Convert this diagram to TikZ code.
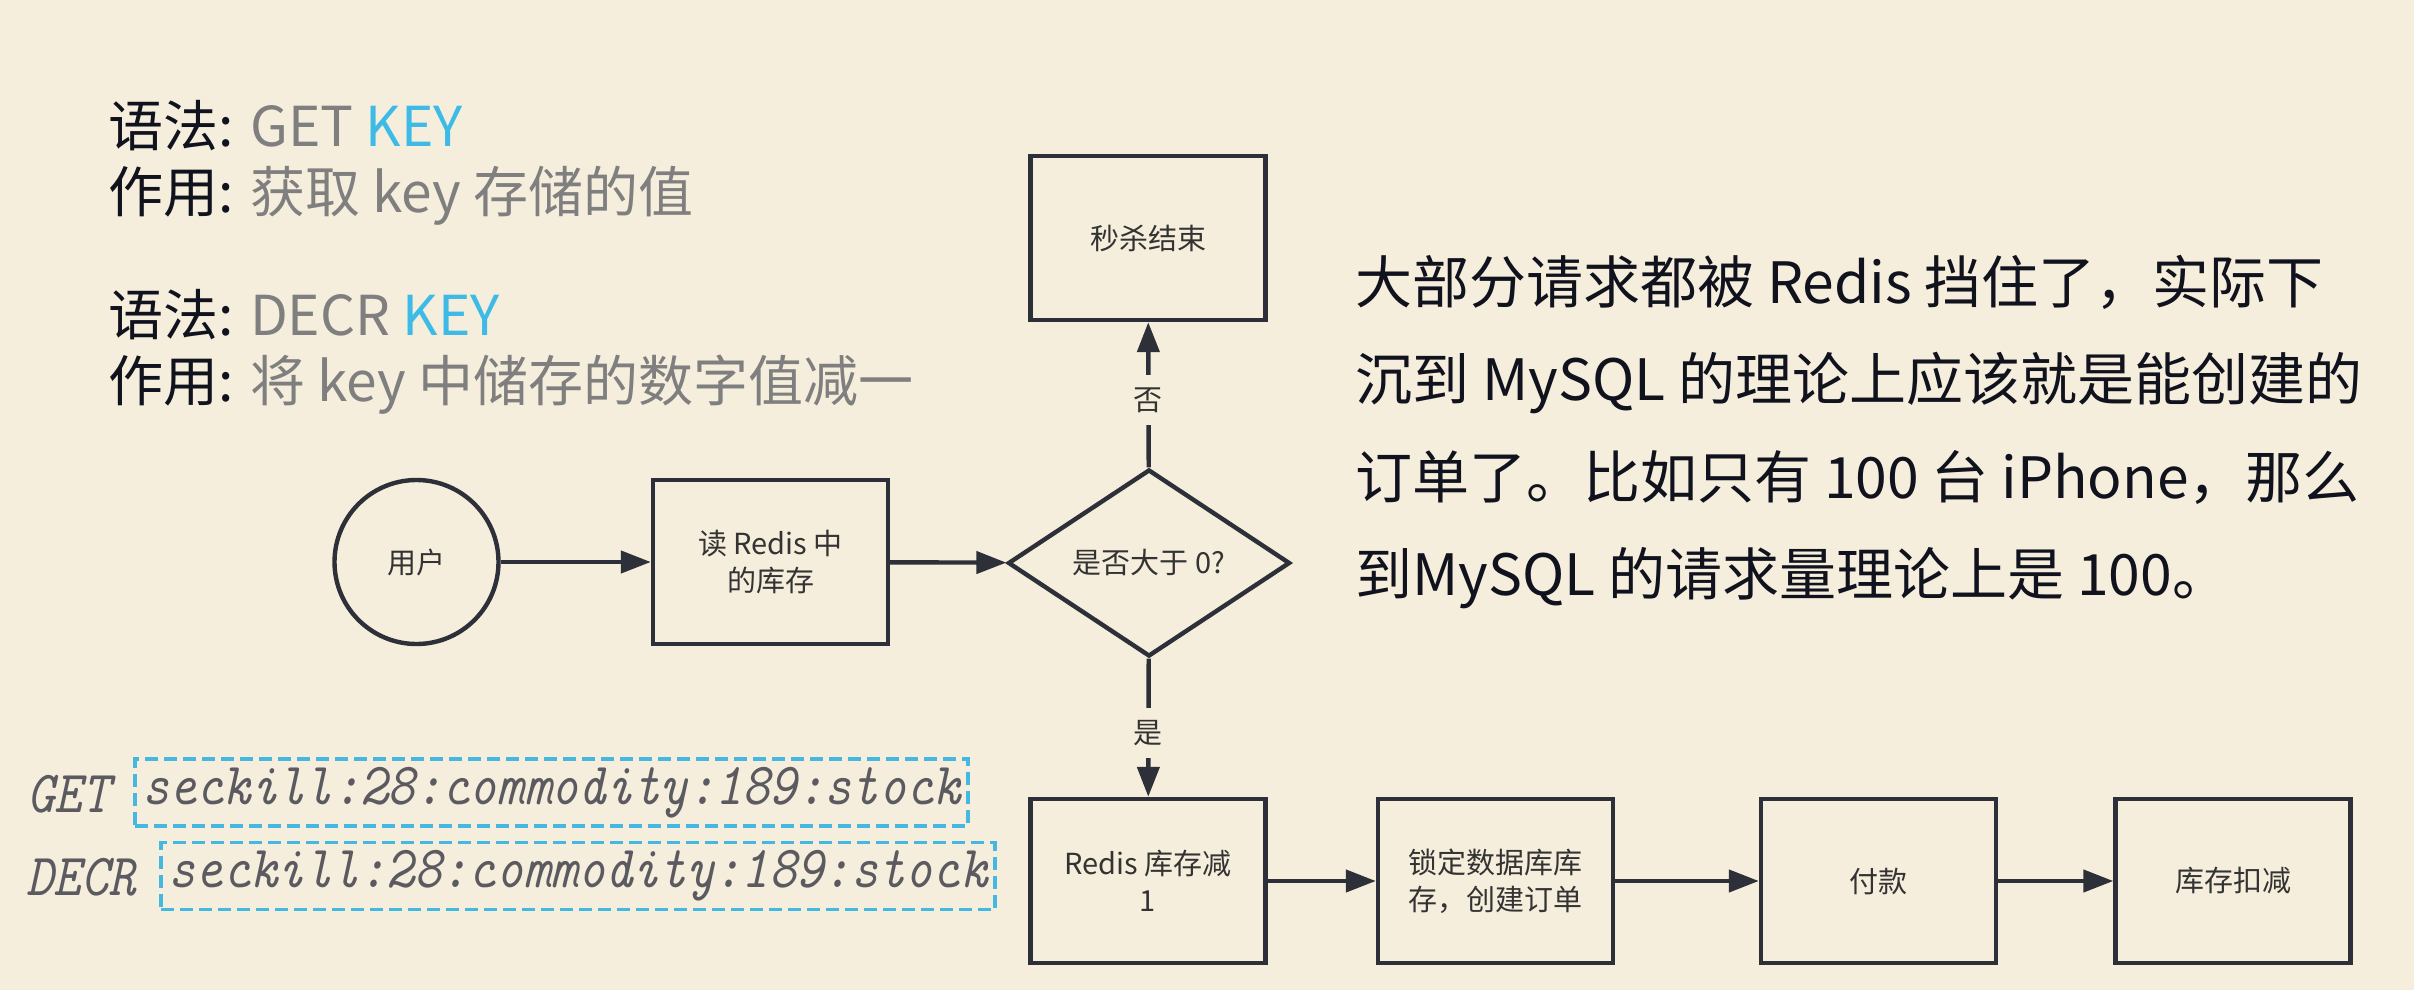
\documentclass[tikz,border=0pt]{standalone}
\usepackage{fontspec}
\usepackage{graphicx}
\newfontfamily\cjk{Noto Sans CJK SC}
\usetikzlibrary{shapes.geometric,arrows.meta}
\definecolor{bg}{HTML}{F6EEDC}
\definecolor{linec}{HTML}{2D3038}
\definecolor{nodetext}{HTML}{333333}
\definecolor{darktext}{HTML}{10121E}
\definecolor{graytext}{HTML}{7F7F7F}
\definecolor{keyblue}{HTML}{3DBBE6}
\definecolor{monotext}{HTML}{5A5A60}
\definecolor{dashblue}{HTML}{44B8E0}
\tikzset{
  flowbox/.style={draw=linec, line width=2.2pt, minimum width=117.5pt, minimum height=82pt,
    inner sep=0pt, align=center, text=nodetext, font=\cjk\fontsize{14.5}{18.5}\selectfont},
  flowarrow/.style={draw=linec, line width=2.2pt, -{Triangle[length=15pt,width=11pt]}},
  flowlabel/.style={fill=bg, inner xsep=3pt, inner ysep=6pt, text=nodetext, font=\cjk\fontsize{14.5}{17}\selectfont},
  lefttext/.style={anchor=base west, inner sep=0pt, text=darktext, font=\cjk\fontsize{27.5}{30}\selectfont},
  paratext/.style={anchor=base west, inner sep=0pt, text=darktext, font=\cjk\fontsize{28.5}{30}\selectfont},
  monolabel/.style={anchor=base west, inner sep=0pt, text=monotext, font=\ttfamily\itshape\fontsize{26}{28}\selectfont},
  keybox/.style={draw=dashblue, line width=1.6pt, dash pattern=on 6.5pt off 3pt, minimum height=33.5pt,
    inner sep=0pt, text=monotext, font=\ttfamily\itshape\fontsize{26}{28}\selectfont}
}
\begin{document}
\begin{tikzpicture}[x=0.5pt,y=-0.5pt]
\fill[bg] (0,0) rectangle (2414,990);
\useasboundingbox (0,0) rectangle (2414,990);

% left description text
\node[lefttext] (syn1) at (108,147) {语法: {\color{graytext}GET} {\color{keyblue}KEY}};
\node[lefttext] (use1) at (108,213) {作用: {\color{graytext}获取 key 存储的值}};
\node[lefttext] (syn2) at (108,335) {语法: {\color{graytext}DECR} {\color{keyblue}KEY}};
\node[lefttext] (use2) at (108,401) {作用: {\color{graytext}将 key 中储存的数字值减一}};

% right paragraph
\node[paratext] (p1) at (1355,303) {大部分请求都被 Redis 挡住了，实际下};
\node[paratext] (p2) at (1355,400.5) {沉到 MySQL 的理论上应该就是能创建的};
\node[paratext] (p3) at (1355,498) {订单了。比如只有 100 台 iPhone，那么};
\node[paratext] (p4) at (1355,595.5) {到MySQL 的请求量理论上是 100。};

% flowchart
\node[draw=linec, line width=2.2pt, circle, minimum size=82pt, inner sep=0pt, text=nodetext,
      font=\cjk\fontsize{14.5}{18}\selectfont] (user) at (416.5,562) {用户};
\node[flowbox] (read) at (770.5,562) {读 Redis 中\\的库存};
\node[draw=linec, line width=2.2pt, diamond, minimum width=141pt, minimum height=93.5pt, inner sep=0pt,
      text=nodetext, font=\cjk\fontsize{14.5}{18}\selectfont] (dia) at (1149,563) {是否大于 0?};
\node[flowbox] (end) at (1148,238) {秒杀结束};
\node[flowbox] (b1) at (1148,881) {Redis 库存减\\1};
\node[flowbox] (b2) at (1495.5,881) {锁定数据库库\\存，创建订单};
\node[flowbox] (b3) at (1878.5,881) {付款};
\node[flowbox] (b4) at (2233,881) {库存扣减};

\draw[flowarrow] (user) -- (read);
\draw[flowarrow] (read) -- (dia);
\draw[flowarrow] (dia) -- (end);
\draw[flowarrow] (dia) -- (b1);
\draw[flowarrow] (b1) -- (b2);
\draw[flowarrow] (b2) -- (b3);
\draw[flowarrow] (b3) -- (b4);
\node[flowlabel] (no) at (1148,400) {否};
\node[flowlabel] (yes) at (1148,733) {是};

% key commands
\node[monolabel] (get) at (27,812) {\scalebox{1}[1.15]{GET}};
\node[keybox, minimum width=416.5pt] (k1) at (551.5,792.5) {\scalebox{1}[1.15]{seckill:28:commodity:189:stock}};
\node[monolabel] (decr) at (26,895) {\scalebox{1}[1.15]{DECR}};
\node[keybox, minimum width=417pt] (k2) at (578,876) {\scalebox{1}[1.15]{seckill:28:commodity:189:stock}};
\end{tikzpicture}
\end{document}
